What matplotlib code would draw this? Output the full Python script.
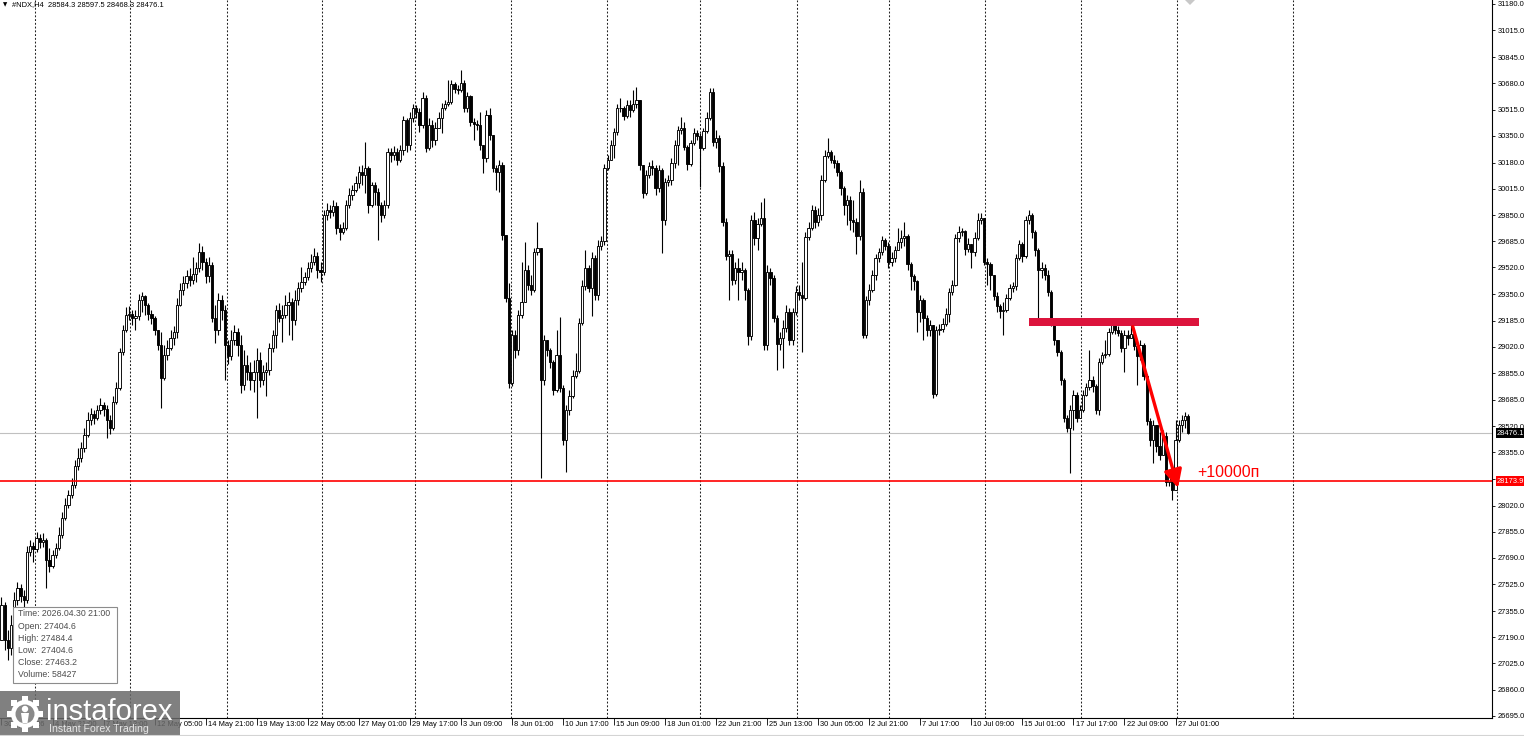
import matplotlib
matplotlib.use('Agg')
import matplotlib.pyplot as plt
import matplotlib.transforms as mtransforms
from matplotlib.patches import Rectangle, FancyArrowPatch, Circle, Polygon
import numpy as np

plt.rcParams['font.family'] = ['Liberation Sans', 'DejaVu Sans']

# H4 candles of #NDX (open = previous close)
first_open = 27173.0
closes = [
    27394, 27173, 27123, 27268, 27425, 27501, 27450, 27425, 27727, 27765,
    27746, 27816, 27790, 27803, 27677, 27639, 27709, 27753, 27835, 27942,
    28024, 28087, 28150, 28269, 28320, 28383, 28465, 28559, 28597, 28572,
    28622, 28654, 28628, 28559, 28509, 28672, 28761, 28987, 29126, 29221,
    29227, 29202, 29214, 29315, 29340, 29284, 29227, 29202, 29126, 29032,
    28824, 28969, 29013, 29076, 29113, 29284, 29378, 29422, 29466, 29441,
    29479, 29517, 29617, 29554, 29466, 29536, 29202, 29126, 29315, 29252,
    29032, 28962, 29063, 29113, 29032, 28780, 28906, 28861, 28811, 28861,
    28937, 28811, 28861, 28874, 29013, 29095, 29252, 29202, 29221, 29284,
    29302, 29189, 29315, 29391, 29428, 29460, 29517, 29554, 29592, 29504,
    29491, 29851, 29882, 29869, 29907, 29769, 29743, 29769, 29914, 29977,
    30008, 30052, 30121, 30103, 30147, 29914, 30040, 29995, 29914, 29851,
    29914, 30247, 30229, 30247, 30197, 30260, 30449, 30292, 30462, 30525,
    30499, 30418, 30588, 30273, 30418, 30323, 30399, 30462, 30525, 30550,
    30562, 30676, 30644, 30638, 30682, 30525, 30600, 30436, 30424, 30418,
    30292, 30210, 30481, 30355, 30147, 30121, 30166, 29725, 29328, 28792,
    29095, 29000, 29221, 29302, 29504, 29410, 29378, 29617, 29643, 28811,
    29063, 29000, 28924, 28748, 28969, 28761, 28433, 28622, 28710, 28836,
    28868, 29170, 29403, 29517, 29391, 29580, 29347, 29655, 29687, 30147,
    30197, 30292, 30373, 30525, 30525, 30474, 30544, 30512, 30550, 30575,
    30166, 29989, 30103, 30159, 30147, 30021, 30134, 29819, 30059, 30071,
    30178, 30292, 30386, 30399, 30279, 30172, 30304, 30367, 30348, 30273,
    30380, 30462, 30625, 30310, 30336, 30159, 29806, 29592, 29605, 29441,
    29517, 29491, 29504, 29378, 29088, 29819, 29706, 29794, 29832, 29032,
    29491, 29454, 29202, 29038, 29076, 29139, 29239, 29063, 29239, 29365,
    29347, 29328, 29712, 29769, 29882, 29806, 29851, 30071, 30222, 30247,
    30197, 30178, 30121, 30021, 29914, 29945, 29819, 29806, 29718, 29995,
    29095, 29315, 29378, 29473, 29580, 29617, 29693, 29655, 29554, 29580,
    29630, 29680, 29706, 29718, 29542, 29466, 29435, 29239, 29315, 29202,
    29126, 29158, 28723, 29126, 29132, 29164, 29227, 29365, 29410, 29706,
    29743, 29750, 29636, 29668, 29617, 29706, 29819, 29832, 29554, 29542,
    29473, 29340, 29277, 29246, 29252, 29328, 29391, 29403, 29580, 29668,
    29592, 29819, 29851, 29743, 29630, 29504, 29517, 29473, 29365, 29176,
    29063, 28987, 28811, 28572, 28509, 28622, 28717, 28572, 28622, 28717,
    28767, 28811, 28773, 28622, 28924, 28969, 28975, 29113, 29176, 29126,
    29107, 29013, 29095, 29076, 29101, 29025, 28962, 29032, 28836, 28553,
    28433, 28528, 28395, 28339, 28458, 28168, 28206, 28118, 28433, 28528,
    28559, 28584.3, 28476.1,
]
highs = [
    27444, 27412, 27236, 27331, 27475, 27538, 27526, 27488, 27765, 27803,
    27790, 27853, 27841, 27847, 27816, 27753, 27740, 27784, 27885, 27979,
    28068, 28118, 28194, 28307, 28383, 28420, 28509, 28609, 28635, 28622,
    28654, 28698, 28672, 28654, 28590, 28710, 28798, 29013, 29158, 29271,
    29277, 29252, 29252, 29353, 29365, 29347, 29296, 29252, 29214, 29126,
    29113, 29032, 29063, 29126, 29151, 29328, 29422, 29466, 29504, 29516,
    29586, 29554, 29674, 29655, 29580, 29586, 29554, 29284, 29359, 29347,
    29284, 29063, 29126, 29158, 29139, 29095, 29000, 28969, 28924, 28937,
    29013, 28987, 28906, 28924, 29044, 29126, 29284, 29296, 29284, 29347,
    29365, 29328, 29378, 29428, 29523, 29491, 29554, 29605, 29643, 29617,
    29554, 29882, 29926, 29914, 29945, 29932, 29794, 29806, 29945, 30021,
    30040, 30096, 30159, 30166, 30310, 30159, 30059, 30059, 30021, 29932,
    29945, 30273, 30273, 30285, 30273, 30292, 30474, 30462, 30499, 30550,
    30544, 30525, 30625, 30607, 30462, 30449, 30436, 30499, 30556, 30575,
    30701, 30701, 30688, 30670, 30764, 30701, 30625, 30607, 30462, 30449,
    30499, 30292, 30512, 30525, 30355, 30166, 30197, 30184, 29725, 29422,
    29126, 29126, 29252, 29554, 29680, 29536, 29473, 29643, 29806, 29636,
    29095, 29032, 29013, 28937, 29126, 29208, 28780, 28654, 28748, 28874,
    28981, 29202, 29441, 29630, 29536, 29617, 29599, 29693, 29719, 30172,
    30229, 30323, 30399, 30550, 30588, 30537, 30575, 30575, 30638, 30657,
    30562, 30166, 30134, 30184, 30197, 30166, 30166, 30147, 30084, 30103,
    30210, 30323, 30411, 30468, 30436, 30292, 30323, 30399, 30386, 30367,
    30399, 30499, 30651, 30651, 30386, 30355, 30184, 29832, 29630, 29630,
    29554, 29580, 29554, 29517, 29391, 29851, 29869, 29832, 29932, 29958,
    29536, 29517, 29473, 29221, 29113, 29189, 29284, 29265, 29265, 29403,
    29410, 29554, 29743, 29806, 29914, 29907, 29895, 30103, 30260, 30336,
    30260, 30229, 30197, 30134, 30033, 29977, 29970, 29945, 29832, 30071,
    30021, 29340, 29416, 29504, 29605, 29643, 29718, 29706, 29680, 29617,
    29655, 29769, 29756, 29806, 29731, 29554, 29479, 29441, 29347, 29328,
    29221, 29189, 29158, 29151, 29164, 29202, 29265, 29391, 29441, 29731,
    29781, 29769, 29756, 29706, 29655, 29743, 29863, 29863, 29832, 29580,
    29554, 29473, 29365, 29290, 29302, 29353, 29416, 29428, 29605, 29693,
    29680, 29844, 29882, 29863, 29756, 29643, 29554, 29542, 29504, 29378,
    29189, 29063, 29000, 28824, 28590, 28654, 28748, 28735, 28654, 28748,
    28792, 29000, 28836, 28786, 28950, 28987, 29063, 29139, 29202, 29202,
    29151, 29126, 29126, 29126, 29176, 29126, 29044, 29063, 29044, 28849,
    28572, 28559, 28509, 28484, 28496, 28484, 28231, 28213, 28559, 28559,
    28590, 28610, 28597.5,
]
lows = [
    27173, 27110, 27047, 27079, 27236, 27394, 27412, 27362, 27406, 27702,
    27664, 27727, 27753, 27759, 27501, 27601, 27627, 27690, 27740, 27816,
    27929, 28005, 28068, 28131, 28244, 28295, 28357, 28452, 28528, 28534,
    28559, 28597, 28584, 28446, 28471, 28496, 28660, 28748, 28969, 29113,
    29189, 29158, 29126, 29189, 29239, 29221, 29189, 29164, 29095, 29000,
    28635, 28811, 28937, 29000, 29032, 29076, 29277, 29347, 29391, 29403,
    29416, 29428, 29491, 29504, 29422, 29428, 29176, 29044, 29095, 29189,
    28811, 28912, 28937, 29032, 28962, 28729, 28748, 28811, 28748, 28735,
    28572, 28767, 28780, 28710, 28843, 28987, 29013, 29176, 29050, 29202,
    29095, 29063, 29158, 29284, 29365, 29410, 29441, 29491, 29536, 29454,
    29428, 29473, 29819, 29832, 29844, 29731, 29693, 29731, 29756, 29895,
    29945, 29995, 30021, 30040, 29989, 29863, 29901, 29914, 29693, 29806,
    29832, 29895, 30184, 30197, 30166, 30184, 30229, 30247, 30260, 30436,
    30462, 30373, 30399, 30247, 30260, 30279, 30292, 30418, 30367, 30512,
    30537, 30550, 30619, 30613, 30625, 30499, 30499, 30411, 30323, 30386,
    30260, 30115, 30184, 30323, 30121, 30008, 29995, 29693, 29302, 28761,
    28773, 28950, 28969, 29202, 29302, 29378, 29347, 29365, 29599, 28194,
    28780, 28962, 28887, 28717, 28735, 28735, 28402, 28231, 28590, 28698,
    28824, 28855, 29158, 29378, 29365, 29214, 29315, 29315, 29630, 29662,
    30134, 30197, 30210, 30355, 30499, 30449, 30462, 30468, 30499, 30525,
    30134, 29958, 29977, 30084, 30103, 29977, 29995, 29611, 29788, 30033,
    30040, 30147, 30166, 30361, 30260, 30134, 30159, 30292, 30323, 30027,
    30260, 30367, 30449, 30285, 30273, 30121, 29781, 29567, 29315, 29410,
    29416, 29315, 29441, 29315, 29032, 29063, 29662, 29630, 29781, 29000,
    29000, 29410, 29176, 28874, 29000, 28887, 29113, 29032, 29032, 29221,
    29315, 28987, 29315, 29693, 29756, 29769, 29781, 29819, 30059, 30210,
    30178, 30147, 30096, 29977, 29851, 29788, 29756, 29743, 29605, 29693,
    29076, 29076, 29284, 29365, 29441, 29554, 29599, 29630, 29517, 29529,
    29554, 29630, 29643, 29655, 29504, 29378, 29378, 29113, 29176, 29063,
    29088, 29088, 28698, 28710, 29095, 29113, 29151, 29176, 29347, 29403,
    29680, 29718, 29599, 29617, 29517, 29592, 29693, 29794, 29536, 29410,
    29378, 29315, 29239, 29202, 29095, 29239, 29315, 29365, 29378, 29567,
    29554, 29580, 29794, 29706, 29592, 29189, 29454, 29441, 29340, 29151,
    29032, 28962, 28780, 28546, 28484, 28225, 28496, 28546, 28597, 28609,
    28710, 28748, 28735, 28597, 28590, 28912, 28950, 28962, 29101, 29101,
    29088, 28987, 28861, 29032, 29076, 29000, 28780, 28937, 28811, 28528,
    28395, 28288, 28357, 28307, 28433, 28143, 28143, 28055, 28181, 28420,
    28484, 28509, 28468.3,
]
assert len(closes) == len(highs) == len(lows)

price_ticks = [31180, 31015, 30845, 30680, 30515, 30350, 30180, 30015, 29850,
               29685, 29520, 29350, 29185, 29020, 28855, 28685, 28520, 28355,
               28190, 28020, 27855, 27690, 27525, 27355, 27190, 27025, 26860, 26695]
time_labels = ["30 Apr 2026", "4 May 21:00", "7 May 13:00", "12 May 05:00",
               "14 May 21:00", "19 May 13:00", "22 May 05:00", "27 May 01:00",
               "29 May 17:00", "3 Jun 09:00", "8 Jun 01:00", "10 Jun 17:00",
               "15 Jun 09:00", "18 Jun 01:00", "22 Jun 21:00", "25 Jun 13:00",
               "30 Jun 05:00", "2 Jul 21:00", "7 Jul 17:00", "10 Jul 09:00",
               "15 Jul 01:00", "17 Jul 17:00", "22 Jul 09:00", "27 Jul 01:00"]
LABEL_STEP = 16
week_lines = [10.4, 40.4, 70.6, 100.6, 129.7, 159.8, 189.8, 219.1, 249.2,
              278.3, 308.3, 338.4, 368.5, 404.9]

bid = 28476.1
target_level = 28173.9
zone_low, zone_high = 29151, 29202
zone_from, zone_to = 322.1, 375.4
arrow_from = (354.6, 29147)
arrow_to = (368.8, 28131)
profit_text = "+10000п"

tooltip_lines = ["Time: 2026.04.30 21:00", "Open: 27404.6", "High: 27484.4",
                 "Low:  27404.6", "Close: 27463.2", "Volume: 58427"]

W, H = 1524, 736
fig = plt.figure(figsize=(W / 100, H / 100), dpi=100)
fig.patch.set_facecolor('white')
ax = fig.add_axes([0, 18 / H, 1492 / W, 718 / H])
ax.set_xlim(-0.47, 467.2)
ax.set_ylim(26681.6, 31205)

c = np.array(closes, dtype=float)
hi = np.array(highs, dtype=float)
lo = np.array(lows, dtype=float)
o = np.r_[first_open, c[:-1]]
x = np.arange(len(c))
up = c >= o
body_lo = np.minimum(o, c)
body_hi = np.maximum(o, c)

ax.vlines(x, np.minimum(lo, body_lo), np.maximum(hi, body_hi),
          color='black', lw=0.8, zorder=3)
ax.bar(x[up], (body_hi - body_lo)[up], bottom=body_lo[up], width=0.72,
       facecolor='white', edgecolor='black', lw=0.65, zorder=4)
ax.bar(x[~up], (body_hi - body_lo)[~up], bottom=body_lo[~up], width=0.72,
       facecolor='black', edgecolor='black', lw=0.65, zorder=4)

for b in week_lines:
    ax.axvline(b, color='#222222', lw=0.75, ls=(0, (1.8, 1.8)), zorder=1)

ax.axhline(bid, color='#c0c0c0', lw=0.8, zorder=2)
ax.axhline(target_level, color='#ff0000', lw=1.2, zorder=5)
ax.add_patch(Rectangle((zone_from, zone_low), zone_to - zone_from, zone_high - zone_low,
                       facecolor='#dc143c', edgecolor='none', zorder=6))
ax.add_patch(FancyArrowPatch(arrow_from, arrow_to,
                             arrowstyle='-|>,head_length=0.9,head_width=0.45',
                             mutation_scale=12, color='#ff0000', lw=2.4,
                             shrinkA=0, shrinkB=0, zorder=7))
ax.text(374.8, target_level + 52, profit_text, color='#ff0000', fontsize=11.5,
        ha='left', va='center', zorder=7)

for s in ['left', 'top']:
    ax.spines[s].set_visible(False)
for s in ['right', 'bottom']:
    ax.spines[s].set_linewidth(0.8)
    ax.spines[s].set_color('black')

ax.yaxis.tick_right()
ax.set_yticks(price_ticks)
ax.set_yticklabels([f'{p:.1f}' for p in price_ticks], fontsize=5.4)
ax.tick_params(axis='y', length=2.5, width=0.6, pad=1.5, direction='out')

label_bars = [i * LABEL_STEP for i in range(len(time_labels))]
ax.set_xticks(label_bars)
ax.set_xticklabels([])
ax.tick_params(axis='x', length=5, width=0.6, direction='out')
xt = mtransforms.blended_transform_factory(ax.transData, ax.transAxes)
for b, lab in zip(label_bars, time_labels):
    ax.annotate(lab, xy=(b, 0), xycoords=xt, xytext=(1.5, -2),
                textcoords='offset points', ha='left', va='top', fontsize=5.4,
                annotation_clip=False)

yt = mtransforms.blended_transform_factory(ax.transAxes, ax.transData)
for val, col in [(bid, 'black'), (target_level, '#ff0000')]:
    ax.annotate(f'{val:.1f}', xy=(1, val), xycoords=yt, xytext=(3.6, 0),
                textcoords='offset points', ha='left', va='center', fontsize=5.4,
                color='white', zorder=9, annotation_clip=False,
                bbox=dict(boxstyle='square,pad=0.18', fc=col, ec='none'))

fig.text(12 / W, 1 - 5 / H, "#NDX,H4  28584.3 28597.5 28468.3 28476.1",
         fontsize=5.4, ha='left', va='center')
fig.text(3 / W, 1 - 5 / H, "▼", fontsize=4, ha='left', va='center',
         family='DejaVu Sans')

# overlay in pixel space: tooltip, watermark, small decorations
ov = fig.add_axes([0, 0, 1, 1], zorder=20)
ov.set_xlim(0, W)
ov.set_ylim(H, 0)
ov.axis('off')
ov.patch.set_alpha(0)

ov.add_patch(Rectangle((13, 607), 104, 76, facecolor='white', edgecolor='#8c8c8c', lw=0.8))
for k, line in enumerate(tooltip_lines):
    ov.text(18, 614 + 12.1 * k, line, fontsize=6.3, color='#4d4d4d', ha='left', va='center')

ov.add_patch(Rectangle((0, 691), 180, 45, facecolor='#6a6a6a', edgecolor='none', alpha=0.85))
ov.text(46, 720, "instaforex", fontsize=21, color='white', ha='left', va='baseline')
ov.text(49, 732, "Instant Forex Trading", fontsize=7.6, color='#e6e6e6',
        ha='left', va='baseline')
gx, gy = 25, 714
for a in np.linspace(0, 2 * np.pi, 8, endpoint=False):
    ov.add_patch(Rectangle((gx + 15 * np.cos(a) - 3, gy + 15 * np.sin(a) - 3), 6, 6,
                           facecolor='white', edgecolor='none'))
ov.add_patch(Circle((gx, gy), 14, facecolor='white', edgecolor='none'))
ov.add_patch(Circle((gx, gy), 9.5, facecolor='#8a8a8a', edgecolor='none'))
ov.add_patch(Circle((gx, gy - 5), 3.2, facecolor='white', edgecolor='none'))
ov.add_patch(Polygon([(gx - 4, gy - 1), (gx + 4, gy - 1), (gx + 2.5, gy + 9), (gx - 2.5, gy + 9)],
                     facecolor='white', edgecolor='none'))

ov.plot([0, W], [734.5, 734.5], color='#d4d4d4', lw=0.8)
ov.add_patch(Polygon([(1185, 0), (1195, 0), (1190, 5)], facecolor='#c8c8c8', edgecolor='none'))

fig.savefig('out.png', dpi=100)
